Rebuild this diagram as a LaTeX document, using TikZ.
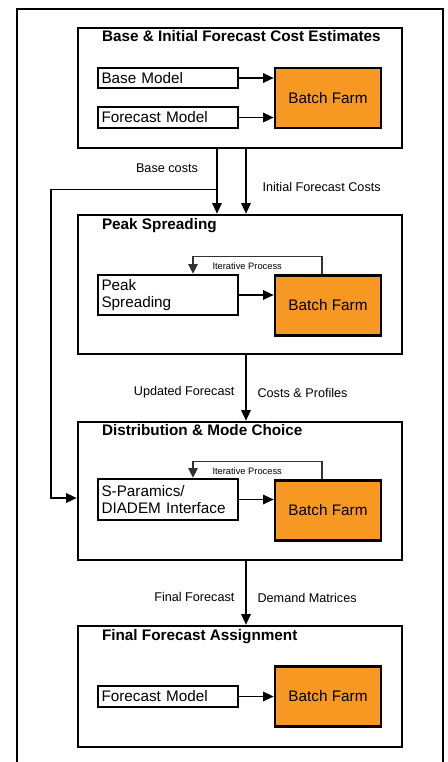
\documentclass[tikz,border=0pt]{standalone}
\usepackage{fontspec}
\setmainfont{Liberation Sans}
\usepackage{xcolor}
\usepackage{tikz}
\usetikzlibrary{positioning}
\usetikzlibrary{shapes,arrows.meta}
\definecolor{farmorange}{RGB}{246,152,33}
\newcommand{\boxfont}{\fontsize{8.7}{10}\selectfont}
\newcommand{\labelfont}{\fontsize{7.2}{8.5}\selectfont}
\newcommand{\loopfont}{\fontsize{5.3}{6}\selectfont}
\tikzstyle{stagebox} = [draw, line width=1.5pt, minimum width=6.48cm, inner sep=0pt]
\tikzstyle{stagetitle} = [anchor=base west, inner sep=0pt, font=\boxfont\bfseries]
\tikzstyle{model} = [draw, line width=1.5pt, fill=white, text width=2.66cm, inner xsep=2pt, inner ysep=0pt, align=left, font=\boxfont]
\tikzstyle{farm} = [draw, line width=1.5pt, fill=farmorange, minimum width=2.12cm, minimum height=1.2cm, inner sep=0pt, font=\boxfont]
\tikzstyle{arrow} = [draw, -{Triangle[length=6pt, width=5.4pt]}, line width=0.8pt]
\tikzstyle{loop} = [draw, -{Triangle[length=5.4pt, width=5.4pt]}, line width=0.6pt, black!80]
\tikzstyle{flowlabel} = [font=\labelfont]

\begin{document}
\begin{tikzpicture}
\useasboundingbox (0, 0) rectangle (8.96, -15.24);
%% outer frame, open at the bottom
\draw[line width=1.2pt] (0.34, -15.6) |- (8.86, -0.18) -- (8.86, -15.6);

%% Base & initial forecast
\node[stagebox, minimum height=2.4cm] (est) at (4.8, -1.76) {};
\node[stagetitle] (t1) at ([xshift=0.5cm, yshift=-0.3cm]est.north west) {Base \& Initial Forecast Cost Estimates};
\node[model, minimum height=0.4cm] (basemodel) at (3.36, -1.56) {Base Model};
\node[model, minimum height=0.42cm] (fcmodel) at (3.36, -2.35) {Forecast Model};
\node[farm] (farm1) at (6.56, -1.96) {Batch Farm};
\draw[arrow] (basemodel.east) -- (basemodel.east -| farm1.west);
\draw[arrow] (fcmodel.east) -- (fcmodel.east -| farm1.west);

%% Peak spreading
\node[stagebox, minimum height=2.78cm] (peak) at (4.8, -5.69) {};
\node[stagetitle] (t2) at ([xshift=0.5cm, yshift=-0.32cm]peak.north west) {Peak Spreading};
\node[model, minimum height=0.8cm] (psmodel) at (3.36, -5.9) {Peak\\Spreading};
\node[farm] (farm2) at (6.56, -6.11) {Batch Farm};
\draw[arrow] (psmodel.east) -- (psmodel.east -| farm2.west);
\draw[loop] ([xshift=-0.12cm]farm2.north) -- ++(0, 0.36)
    -| node[pos=0.29, below, font=\loopfont, black] (iter2) {Iterative Process} ([xshift=0.5cm]psmodel.north);

%% Distribution & mode choice
\node[stagebox, minimum height=2.76cm] (dist) at (4.8, -9.82) {};
\node[stagetitle] (t3) at ([xshift=0.5cm, yshift=-0.3cm]dist.north west) {Distribution \& Mode Choice};
\node[model, minimum height=0.82cm] (spmodel) at (3.36, -9.99) {S-Paramics/\\DIADEM Interface};
\node[farm] (farm3) at (6.56, -10.21) {Batch Farm};
\draw[arrow] (spmodel.east) -- (spmodel.east -| farm3.west);
\draw[loop] ([xshift=-0.12cm]farm3.north) -- ++(0, 0.36)
    -| node[pos=0.29, below, font=\loopfont, black] (iter3) {Iterative Process} ([xshift=0.5cm]spmodel.north);

%% Final forecast assignment
\node[stagebox, minimum height=2.42cm] (final) at (4.8, -13.73) {};
\node[stagetitle] (t4) at ([xshift=0.5cm, yshift=-0.32cm]final.north west) {Final Forecast Assignment};
\node[model, minimum height=0.42cm] (fcmodel4) at (3.36, -13.93) {Forecast Model};
\node[farm] (farm4) at (6.56, -13.93) {Batch Farm};
\draw[arrow] (fcmodel4.east) -- (fcmodel4.east -| farm4.west);

%% flows between stages
\coordinate (split) at ([xshift=-0.46cm, yshift=-0.8cm]est.south);
\draw[arrow] ([xshift=-0.46cm]est.south) -- node[pos=0.3, flowlabel, left=0.25cm] (basecosts) {Base costs} ([xshift=-0.46cm]peak.north);
\draw[arrow] ([xshift=0.12cm]est.south) -- node[pos=0.58, flowlabel, right=0.2cm] (initcosts) {Initial Forecast Costs} ([xshift=0.12cm]peak.north);
\draw[arrow] (split) -- ++(-3.32, 0) |- ([yshift=-0.14cm]dist.west);
\draw[arrow] ([xshift=0.12cm]peak.south) -- node[pos=0.56, flowlabel, left=0.1cm] (updated) {Updated Forecast}
    node[pos=0.57, flowlabel, right=0.1cm] (profiles) {Costs \& Profiles} ([xshift=0.12cm]dist.north);
\draw[arrow] ([xshift=0.12cm]dist.south) -- node[pos=0.56, flowlabel, left=0.1cm] (finalfc) {Final Forecast}
    node[pos=0.58, flowlabel, right=0.1cm] (demand) {Demand Matrices} ([xshift=0.12cm]final.north);
\end{tikzpicture}
\end{document}
